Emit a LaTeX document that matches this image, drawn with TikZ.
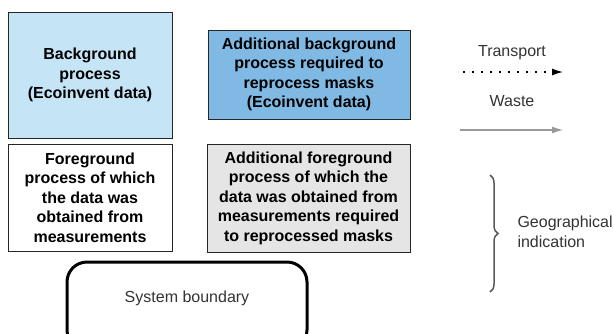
\documentclass[tikz,border=0pt]{standalone}
\usepackage{fontspec}
\setmainfont{Liberation Sans}
\usepackage{tikz}
\usetikzlibrary{arrows.meta}
\usetikzlibrary{decorations.pathreplacing}

\definecolor{bgblue}{HTML}{C5E5F7}
\definecolor{addblue}{HTML}{7FB9E4}
\definecolor{addgrey}{HTML}{E5E5E5}
\definecolor{legendtext}{HTML}{333333}

\begin{document}
\begin{tikzpicture}[x=1pt,y=-1pt,
        procbox/.style={draw=black!85, line width=1pt, align=center, inner sep=0pt,
            font=\fontsize{16}{19.5}\selectfont\bfseries},
        legend/.style={text=legendtext, font=\fontsize{16}{19.5}\selectfont}]
        \useasboundingbox (0,0) rectangle (613,333);
        % process boxes
        \node[procbox, fill=bgblue, minimum width=164, minimum height=126] (background) at (90,75)
            {Background\\process\\(Ecoinvent data)};
        \node[procbox, fill=white, minimum width=164, minimum height=107] (foreground) at (90,197.5)
            {Foreground\\process of which\\the data was\\obtained from\\measurements};
        \node[procbox, fill=addblue, minimum width=202, minimum height=89] (addbackground) at (309,74.5)
            {Additional background\\process required to\\reprocess masks\\(Ecoinvent data)};
        \node[procbox, fill=addgrey, minimum width=203, minimum height=108] (addforeground) at (308.5,198)
            {Additional foreground\\process of which the\\data was obtained from\\measurements required\\to reprocessed masks};
        % system boundary, runs off the bottom
        \node[draw=black, line width=3pt, rounded corners=20, minimum width=240, minimum height=88,
            text depth=18pt, legend, text=black!80] (boundary) at (187,306) {System boundary};
        % legend
        \node[legend] (transport) at (512,53) {Transport};
        \coordinate (transportA) at (463,72);
        \coordinate (transportB) at (563,72);
        \draw[dash pattern=on 2pt off 7pt, line width=1.3pt, -{Latex[length=11pt,width=7pt]}] (transportA) -- (transportB);
        \node[legend] (waste) at (512,101) {Waste};
        \coordinate (wasteA) at (460,130);
        \coordinate (wasteB) at (563,130);
        \draw[black!40, line width=1.2pt, -{Latex[length=11pt,width=7pt]}] (wasteA) -- (wasteB);
        \coordinate (braceTop) at (490,175);
        \coordinate (braceBot) at (490,292);
        \draw[black!65, line width=1.5pt, decorate, decoration={brace, amplitude=8pt}] (braceTop) -- (braceBot);
        \node[legend, anchor=west, align=left] (geo) at (514,232) {Geographical\\indication};
\end{tikzpicture}
\end{document}
